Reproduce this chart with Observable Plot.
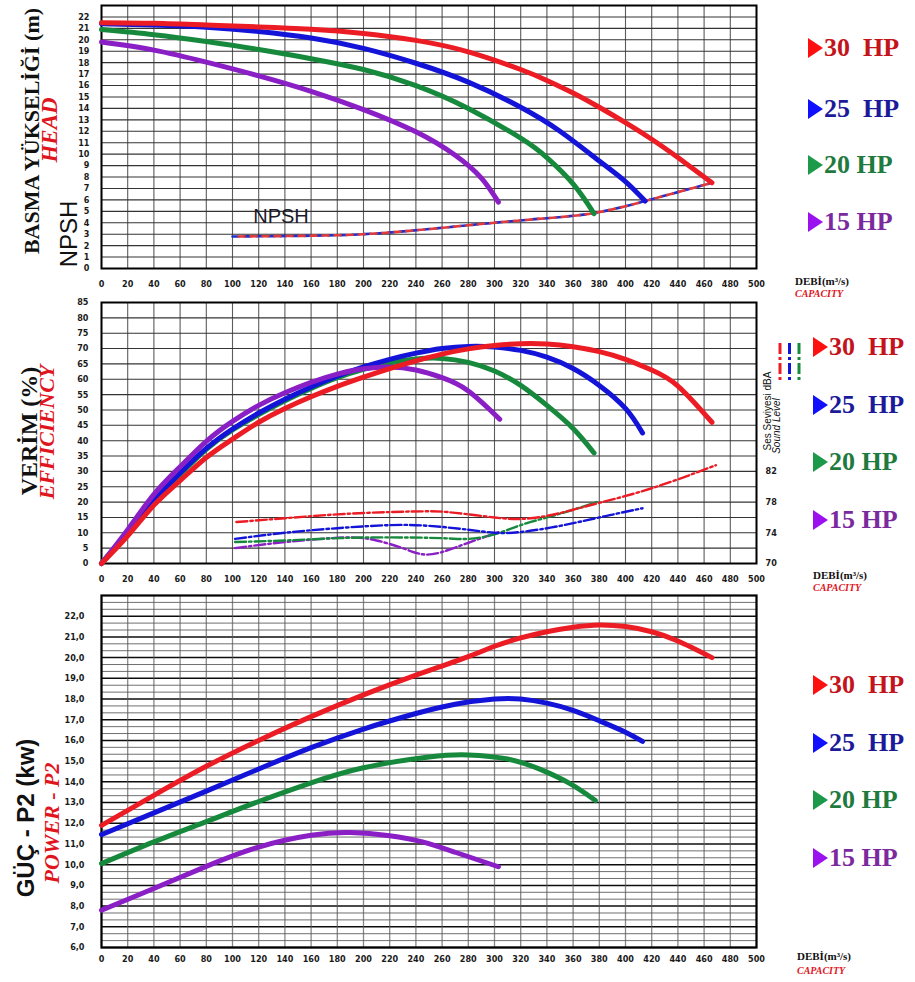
<!DOCTYPE html>
<html><head><meta charset="utf-8">
<script src="https://cdn.jsdelivr.net/npm/d3@7"></script>
<script src="https://cdn.jsdelivr.net/npm/@observablehq/plot@0.6"></script>
<style>
body{margin:0;background:#fff;}
#page{position:relative;width:915px;height:982px;overflow:hidden;background:#fff;font-family:"Liberation Serif","Times New Roman",serif;}
.panel{position:absolute;left:0;}
.rot{position:absolute;transform:translate(-50%,-50%) rotate(-90deg);white-space:nowrap;line-height:1;}
.leg{position:absolute;white-space:pre;font-weight:bold;font-size:26px;line-height:1;transform:translateY(-50%);display:flex;align-items:center;}
.leg svg{margin-right:1px;}
.debi{position:absolute;font-weight:bold;font-size:11px;line-height:1;color:#111;white-space:nowrap;}
.cap{position:absolute;font-weight:bold;font-style:italic;font-size:10px;color:#e0161e;line-height:1;white-space:nowrap;}
</style></head>
<body><div id="page"></div>
<script>
// ---------- tick labels ----------
const capacityTicks = [0,20,40,60,80,100,120,140,160,180,200,220,240,260,280,300,320,340,360,380,400,420,440,460,480,500];
const headTicks = [0,1,2,3,4,5,6,7,8,9,10,11,12,13,14,15,16,17,18,19,20,21,22];
const effTicks = [0,5,10,15,20,25,30,35,40,45,50,55,60,65,70,75,80,85];
const soundTicks = [70,74,78,82];
const powerTicks = [6,7,8,9,10,11,12,13,14,15,16,17,18,19,20,21,22];

// ---------- series names / colours ----------
const seriesNames = ["30  HP","25  HP","20 HP","15 HP"];
const lineColors = ["#ec1c24","#1414d8","#17893d","#8a1fc6"];
const triColors  = ["#ff1010","#1010ff","#1c9a4a","#9b10ee"];
const textColors = ["#c3141c","#1b1b9a","#1f7a3e","#7b2a9e"];

// ---------- HEAD (m) : [capacity, head] ----------
const head30 = [[0,21.5],[40,21.45],[80,21.3],[120,21.13],[160,20.92],[200,20.55],[240,19.95],[280,18.95],[320,17.4],[340,16.45],[360,15.35],[380,14.1],[400,12.75],[420,11.3],[440,9.7],[466,7.5]];
const head25 = [[0,21.4],[40,21.3],[80,21.1],[120,20.72],[160,20.15],[200,19.25],[240,17.95],[280,16.3],[320,14.1],[350,12.0],[380,9.4],[400,7.6],[415,5.9]];
const head20 = [[0,20.9],[40,20.45],[80,19.85],[120,19.15],[160,18.35],[200,17.4],[240,16.0],[280,14.0],[320,11.4],[340,9.7],[360,7.4],[376,4.8]];
const head15 = [[0,19.8],[40,19.1],[80,18.05],[120,16.85],[160,15.5],[200,13.9],[240,11.95],[270,9.9],[290,7.9],[303,5.8]];
const npsh   = [[100,2.8],[150,2.85],[200,3.0],[250,3.45],[300,4.0],[340,4.4],[376,4.85],[415,5.9],[466,7.5]];
const npshLabel = [{q:137, h:4.5, text:"NPSH"}];

// ---------- EFFICIENCY (%) ----------
const eff30 = [[0,0],[20,9],[40,19],[60,27],[80,34.5],[100,40.5],[120,46],[140,50.5],[160,54.3],[180,57.7],[200,60.7],[220,63.5],[240,66],[260,68.2],[280,69.9],[300,71],[320,71.6],[340,71.5],[360,70.6],[380,69],[400,66.5],[420,63],[440,57.8],[466,46]];
const eff25 = [[0,0],[20,10],[40,20.5],[60,29.5],[80,37.5],[100,43.8],[120,49],[140,53.5],[160,57.5],[180,61],[200,64],[220,66.5],[240,68.5],[260,70],[280,70.7],[300,70.5],[320,69.4],[340,67.2],[360,63.5],[380,58],[400,50.5],[413,42.5]];
const eff20 = [[0,0],[20,10],[40,20.3],[60,29],[80,37.2],[100,43.5],[120,48.5],[140,53],[160,57],[180,60.5],[200,63.2],[220,65.3],[240,66.6],[260,66.8],[280,65.5],[300,62.7],[320,58],[340,51.5],[360,44],[376,36]];
const eff15 = [[0,0],[20,11],[40,22.5],[60,31.5],[80,39.8],[100,46.3],[120,51.5],[140,55.6],[160,59],[180,61.7],[200,63.4],[220,64],[240,63],[260,60.5],[280,56.2],[304,47]];

// ---------- SOUND LEVEL (dBA) ----------
const snd30 = [[103,75.4],[140,75.9],[180,76.4],[220,76.7],[250,76.8],[270,76.6],[300,76.0],[320,75.8],[340,76.2],[360,77.0],[380,77.9],[420,79.8],[469,82.8]];
const snd25 = [[102,73.2],[140,74.0],[180,74.6],[220,75.0],[250,74.9],[280,74.4],[300,74.0],[320,74.1],[350,74.9],[380,76.0],[413,77.2]];
const snd20 = [[102,72.8],[140,73.0],[180,73.3],[220,73.4],[260,73.3],[280,73.2],[300,73.8],[320,75.0],[340,76.0],[360,77.0],[378,78.0]];
const snd15 = [[102,72.0],[130,72.6],[160,73.1],[190,73.4],[210,73.0],[230,72.0],[245,71.2],[260,71.5],[280,72.7],[305,74.2]];

// ---------- POWER P2 (kW) ----------
const pow30 = [[0,11.9],[40,13.35],[80,14.75],[120,16.0],[160,17.15],[200,18.2],[240,19.15],[280,20.05],[300,20.55],[320,20.95],[340,21.25],[360,21.47],[380,21.58],[400,21.5],[420,21.25],[440,20.8],[466,20.0]];
const pow25 = [[0,11.45],[40,12.5],[80,13.55],[120,14.62],[160,15.65],[200,16.55],[240,17.3],[270,17.75],[300,18.0],[320,18.0],[340,17.8],[360,17.45],[380,16.95],[400,16.4],[413,15.95]];
const pow20 = [[0,10.05],[40,11.1],[80,12.08],[120,13.05],[160,13.95],[200,14.68],[250,15.2],[280,15.3],[310,15.1],[335,14.6],[358,13.9],[377,13.1]];
const pow15 = [[0,7.8],[40,8.85],[80,9.92],[120,10.85],[160,11.42],[190,11.55],[220,11.4],[245,11.1],[270,10.6],[303,9.9]];

// ---------- helpers ----------
const page = document.getElementById("page");
const tickFont = '"Liberation Sans Narrow","DejaVu Sans Condensed","Arial Narrow",sans-serif';
const X = d => d[0], Y = d => d[1];
const curve = (data, i, w=5) => Plot.line(data, {x:X, y:Y, stroke:lineColors[i], strokeWidth:w, curve:"natural", strokeLinecap:"round", strokeLinejoin:"round"});
const soundToLeft = v => (v - 70) * 2.5;
const sndLine = (data, i) => Plot.line(data, {x:X, y:d => soundToLeft(d[1]), stroke:lineColors[i], strokeWidth:2.4, strokeDasharray:"11,3,2.5,3", curve:"natural"});

function place(svg, top){
  const d = document.createElement("div");
  d.className = "panel"; d.style.top = top + "px";
  d.appendChild(svg); page.appendChild(d);
}
function addDiv(cls, html, css){
  const d = document.createElement("div");
  d.className = cls; d.innerHTML = html;
  Object.assign(d.style, css);
  page.appendChild(d); return d;
}
function legend(tops, left){
  tops.forEach((t,i) => {
    addDiv("leg", `<svg width="15" height="20"><polygon points="0,0 15,10 0,20" fill="${triColors[i]}"/></svg><span>${seriesNames[i]}</span>`, {left:left+"px", top:t+"px", color:textColors[i]});
  });
}
const baseStyle = {fontFamily: tickFont, fontSize:"9px", fontWeight:"bold", color:"#1a1a1a", background:"transparent", overflow:"visible"};

// ---------- panel 1 : HEAD ----------
const p1 = Plot.plot({
  width:790, height:295, marginLeft:101, marginRight:34, marginTop:5, marginBottom:27,
  x:{domain:[0,500]}, y:{domain:[0,23]},
  style: baseStyle,
  marks:[
    Plot.gridY(headTicks.concat([23]), {stroke:"#111", strokeOpacity:0.85, strokeWidth:1.1}),
    Plot.gridX(capacityTicks, {stroke:"#333", strokeOpacity:0.8, strokeWidth:1.1}),
    Plot.axisY(headTicks, {tickSize:0, tickPadding:12, label:null}),
    Plot.axisX(capacityTicks, {tickSize:0, tickPadding:12, label:null}),
    Plot.frame({stroke:"#000", strokeWidth:2}),
    Plot.line(npsh, {x:X, y:Y, stroke:"#1d2fcf", strokeWidth:2.6, strokeDasharray:"6,6", curve:"natural"}),
    Plot.line(npsh, {x:X, y:Y, stroke:"#e03a3a", strokeWidth:2.6, strokeDasharray:"6,6", strokeDashoffset:6, curve:"natural"}),
    curve(head15,3), curve(head20,2), curve(head25,1), curve(head30,0),
    Plot.text(npshLabel, {x:"q", y:"h", text:"text", fontSize:20, fontWeight:"normal", fontFamily:'"Liberation Sans",Arial,sans-serif', fill:"#1a1a2a"})
  ]
});
place(p1, 0);

// ---------- panel 2 : EFFICIENCY + SOUND ----------
const p2 = Plot.plot({
  width:790, height:300, marginLeft:101, marginRight:34, marginTop:12, marginBottom:27,
  x:{domain:[0,500]}, y:{domain:[0,85]},
  style: baseStyle,
  marks:[
    Plot.gridY(effTicks, {stroke:"#111", strokeOpacity:0.85, strokeWidth:1.1}),
    Plot.gridX(capacityTicks, {stroke:"#333", strokeOpacity:0.8, strokeWidth:1.1}),
    Plot.axisY(effTicks, {tickSize:0, tickPadding:13, label:null}),
    Plot.axisY(soundTicks.map(soundToLeft), {anchor:"right", tickSize:0, tickPadding:9, label:null, tickFormat: d => String(Math.round(70 + d/2.5))}),
    Plot.axisX(capacityTicks, {tickSize:0, tickPadding:12, label:null}),
    Plot.frame({stroke:"#000", strokeWidth:2}),
    sndLine(snd15,3), sndLine(snd20,2), sndLine(snd25,1), sndLine(snd30,0),
    curve(eff20,2), curve(eff25,1), curve(eff15,3), curve(eff30,0)
  ]
});
place(p2, 290);

// ---------- panel 3 : POWER ----------
const powerMinor = [];
powerTicks.forEach(t => { powerMinor.push(t + 1/3, t + 2/3); });
const p3 = Plot.plot({
  width:790, height:390, marginLeft:101, marginRight:34, marginTop:5, marginBottom:33,
  x:{domain:[0,500]}, y:{domain:[6,23]},
  style: baseStyle,
  marks:[
    Plot.gridY(powerMinor, {stroke:"#333", strokeOpacity:0.7, strokeWidth:1}),
    Plot.gridY(powerTicks, {stroke:"#000", strokeOpacity:0.95, strokeWidth:1.5}),
    Plot.gridX(capacityTicks, {stroke:"#555", strokeOpacity:0.7, strokeWidth:1.3}),
    Plot.axisY(powerTicks, {tickSize:0, tickPadding:17, label:null, tickFormat: d => d.toFixed(1).replace(".", ",")}),
    Plot.axisX(capacityTicks, {tickSize:0, tickPadding:8, label:null}),
    Plot.frame({stroke:"#000", strokeWidth:2.2}),
    curve(pow15,3), curve(pow20,2), curve(pow25,1), curve(pow30,0)
  ]
});
place(p3, 590);

// ---------- axis titles ----------
addDiv("rot", "BASMA YÜKSELİĞİ (m)", {left:"32px", top:"131px", fontWeight:"bold", fontSize:"22px", color:"#111"});
addDiv("rot", "HEAD", {left:"49px", top:"130px", fontWeight:"bold", fontStyle:"italic", fontSize:"23px", color:"#e0161e"});
addDiv("rot", "NPSH", {left:"69px", top:"234px", fontFamily:'"Liberation Sans",Arial,sans-serif', fontSize:"24px", color:"#111"});

addDiv("rot", "VERİM (%)", {left:"29px", top:"431px", fontWeight:"bold", fontSize:"24px", color:"#111"});
addDiv("rot", "EFFICIENCY", {left:"47px", top:"432px", fontWeight:"bold", fontStyle:"italic", fontSize:"22px", color:"#e0161e"});

addDiv("rot", "GÜÇ - P2 (kw)", {left:"26px", top:"818px", fontFamily:'"Liberation Sans",Arial,sans-serif', fontWeight:"bold", fontSize:"24px", color:"#111"});
addDiv("rot", "POWER - P2", {left:"52px", top:"823px", fontWeight:"bold", fontStyle:"italic", fontSize:"22px", color:"#e0161e"});

// sound level axis title + line key
addDiv("rot", "Ses Seviyesi dBA", {left:"768px", top:"411px", fontFamily:'"Liberation Sans",Arial,sans-serif', fontSize:"10px", color:"#111"});
addDiv("rot", "Sound Level", {left:"777px", top:"426px", fontFamily:'"Liberation Sans",Arial,sans-serif', fontStyle:"italic", fontSize:"10px", color:"#111"});
const key = document.createElement("div");
key.style.cssText = "position:absolute;left:776px;top:340px;width:30px;height:45px;";
key.innerHTML = `<svg width="30" height="45">${[0,1,2].map(i => `<line x1="${4+i*9.5}" x2="${4+i*9.5}" y1="3" y2="41" stroke="${lineColors[i]}" stroke-width="3" stroke-dasharray="11,3,3,3"/>`).join("")}</svg>`;
page.appendChild(key);

// ---------- capacity labels ----------
addDiv("debi", "DEBİ(m³/s)", {left:"795px", top:"276px"});
addDiv("cap", "CAPACITY", {left:"795px", top:"289px"});
addDiv("debi", "DEBİ(m³/s)", {left:"813px", top:"570px"});
addDiv("cap", "CAPACITY", {left:"813px", top:"583px"});
addDiv("debi", "DEBİ(m³/s)", {left:"797px", top:"951px"});
addDiv("cap", "CAPACITY", {left:"797px", top:"966px"});

// ---------- legends ----------
legend([48,109,165,222], 808);
legend([347,405,462,520], 813);
legend([685,743,800,858], 813);
</script></body></html>
